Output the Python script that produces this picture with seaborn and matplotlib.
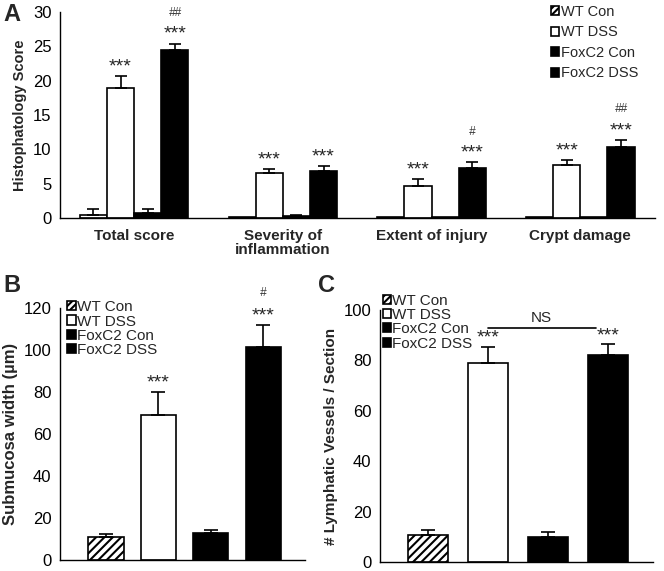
import matplotlib
matplotlib.use("Agg")
import matplotlib.pyplot as plt
import matplotlib.patches as mpatches
import seaborn as sns
import pandas as pd
import numpy as np

sns.set_style("white")
plt.rcParams['font.family'] = ['Liberation Sans', 'DejaVu Sans']
plt.rcParams['hatch.linewidth'] = 1.5

groups = ["WT Con", "WT DSS", "FoxC2 Con", "FoxC2 DSS"]
colors = ["white", "white", "black", "black"]

# Panel A
a_categories = ["Total score", "Severity of\ninflammation", "Extent of injury", "Crypt damage"]
a_values = {
    "WT Con":    [0.5, 0.2, 0.2, 0.2],
    "WT DSS":    [19.0, 6.6, 4.7, 7.8],
    "FoxC2 Con": [0.8, 0.3, 0.2, 0.2],
    "FoxC2 DSS": [24.4, 6.8, 7.3, 10.4],
}
a_errors = {
    "WT Con":    [0.8, 0.0, 0.0, 0.0],
    "WT DSS":    [1.7, 0.5, 1.0, 0.7],
    "FoxC2 Con": [0.5, 0.2, 0.0, 0.0],
    "FoxC2 DSS": [1.0, 0.8, 0.8, 1.0],
}
a_stars = {"WT DSS": ["***"] * 4, "FoxC2 DSS": ["***"] * 4}
a_hash = {"FoxC2 DSS": ["##", "", "#", "##"]}

# Panel B
b_values = [11.0, 69.0, 13.0, 101.5]
b_errors = [1.5, 11.0, 1.5, 10.5]
b_stars = ["", "***", "", "***"]
b_hash = ["", "", "", "#"]

# Panel C
c_values = [10.5, 79.0, 10.0, 82.0]
c_errors = [2.0, 6.5, 2.0, 4.5]
c_stars = ["", "***", "", "***"]
c_ns_level = 93.0

fig = plt.figure(figsize=(6.64, 5.71), dpi=100)
axA = fig.add_axes([0.090, 0.618, 0.896, 0.361])
axB = fig.add_axes([0.090, 0.019, 0.369, 0.442])
axC = fig.add_axes([0.572, 0.016, 0.411, 0.441])

tick_fs = 12
star_fs = 14

def style_axis(ax):
    sns.despine(ax=ax)
    for s in ["left", "bottom"]:
        ax.spines[s].set_linewidth(1.0)
        ax.spines[s].set_color("black")
    ax.tick_params(axis="y", direction="out", length=4, width=1, labelsize=tick_fs, colors="black", pad=2)
    ax.tick_params(axis="x", length=0)

# ---------- Panel A ----------
rows = []
for g in groups:
    for c, v in zip(a_categories, a_values[g]):
        rows.append({"cat": c, "group": g, "value": v})
dfA = pd.DataFrame(rows)
sns.barplot(data=dfA, x="cat", y="value", hue="group", hue_order=groups, order=a_categories,
            palette=dict(zip(groups, colors)), edgecolor="black", linewidth=1.2,
            width=0.73, errorbar=None, legend=False, ax=axA)
for gi, g in enumerate(groups):
    cont = axA.containers[gi]
    xs = np.array([p.get_x() + p.get_width() / 2 for p in cont])
    ys = np.array(a_values[g])
    err = np.array(a_errors[g])
    mask = err > 0
    axA.errorbar(xs[mask], ys[mask], yerr=[np.zeros(mask.sum()), err[mask]], fmt="none",
                 ecolor="black", elinewidth=1.2, capsize=4, capthick=1.2, zorder=3)
    if g in a_stars:
        for x, y, e, s in zip(xs, ys, err, a_stars[g]):
            axA.text(x, y + e + 0.1, s, ha="center", va="bottom", fontsize=star_fs)
    if g in a_hash:
        for x, y, e, s in zip(xs, ys, err, a_hash[g]):
            if s:
                axA.text(x, y + e + 3.6, s, ha="center", va="bottom", fontsize=8.5, style="italic", color="#333333")
axA.set_ylim(0, 30)
axA.set_yticks(range(0, 31, 5))
axA.set_xlim(-0.5, 3.5)
axA.set_xlabel("")
axA.set_ylabel("Histophatology Score", fontsize=10.5, fontweight="bold", labelpad=4)
axA.set_xticks(range(4))
axA.set_xticklabels(a_categories, fontsize=11, fontweight="bold", linespacing=1.0)
style_axis(axA)
axA.tick_params(axis="x", pad=8)

def legend_handles():
    hs = []
    for g, c in zip(groups, colors):
        hs.append(mpatches.Patch(facecolor=c, edgecolor="black", linewidth=1.2,
                                 hatch="/////" if g == "WT Con" else None, label=g))
    return hs

axA.legend(handles=legend_handles(), loc="upper left", bbox_to_anchor=(0.825, 1.035), frameon=False,
           fontsize=10.5, handlelength=0.55, handleheight=0.55, handletextpad=0.15, labelspacing=0.45,
           borderaxespad=0, borderpad=0)
fig.text(0.005, 0.975, "A", fontsize=17, fontweight="bold", va="center")

# ---------- Panels B and C ----------
def simple_panel(ax, values, errors, stars, ylim, ticks, ylabel, ylabel_fs, xlim):
    df = pd.DataFrame({"group": groups, "value": values})
    sns.barplot(data=df, x="group", y="value", hue="group", order=groups, hue_order=groups,
                palette=dict(zip(groups, colors)), edgecolor="black", linewidth=1.2,
                width=0.67, errorbar=None, legend=False, dodge=False, ax=ax)
    bars = [p for p in ax.patches if p.get_height() > 0]
    bars.sort(key=lambda p: p.get_x())
    bars[0].set_hatch("////")
    xs = np.array([p.get_x() + p.get_width() / 2 for p in bars])
    ys = np.array(values)
    err = np.array(errors)
    ax.errorbar(xs, ys, yerr=[np.zeros(len(err)), err], fmt="none", ecolor="black",
                elinewidth=1.2, capsize=5, capthick=1.2, zorder=3)
    for x, y, e, s in zip(xs, ys, err, stars):
        if s:
            ax.text(x, y + e, s, ha="center", va="bottom", fontsize=star_fs)
    ax.set_ylim(*ylim)
    ax.set_yticks(ticks)
    ax.set_xlim(*xlim)
    ax.set_xticks([])
    ax.set_xlabel("")
    ax.set_ylabel(ylabel, fontsize=ylabel_fs, fontweight="bold", labelpad=4)
    style_axis(ax)
    return xs, ys, err

xsB, ysB, eB = simple_panel(axB, b_values, b_errors, b_stars, (0, 120), range(0, 121, 20),
                            "Submucosa width (µm)", 12, (-0.88, 3.79))
for x, y, e, s in zip(xsB, ysB, eB, b_hash):
    if s:
        axB.text(x, y + e + 12.0, s, ha="center", va="bottom", fontsize=8.5, style="italic", color="#333333")
axB.legend(handles=legend_handles(), loc="upper left", bbox_to_anchor=(0.03, 1.03), frameon=False,
           fontsize=11, handlelength=0.55, handleheight=0.55, handletextpad=0.1, labelspacing=0.02,
           borderaxespad=0, borderpad=0)
fig.text(0.005, 0.50, "B", fontsize=17, fontweight="bold", va="center")

xsC, ysC, eC = simple_panel(axC, c_values, c_errors, c_stars, (0, 100), range(0, 101, 20),
                            "# Lymphatic Vessels / Section", 11, (-0.8, 3.75))
axC.plot([xsC[1], xsC[3] - 0.2], [c_ns_level, c_ns_level], color="black", lw=1.2, clip_on=False)
axC.text((xsC[1] + xsC[3] - 0.2) / 2, c_ns_level + 1.0, "NS", ha="center", va="bottom", fontsize=11)
axC.legend(handles=legend_handles(), loc="upper left", bbox_to_anchor=(0.01, 1.065), frameon=False,
           fontsize=11, handlelength=0.55, handleheight=0.55, handletextpad=0.1, labelspacing=0.02,
           borderaxespad=0, borderpad=0)
fig.text(0.479, 0.50, "C", fontsize=17, fontweight="bold", va="center")

fig.savefig("out.png", dpi=100)
